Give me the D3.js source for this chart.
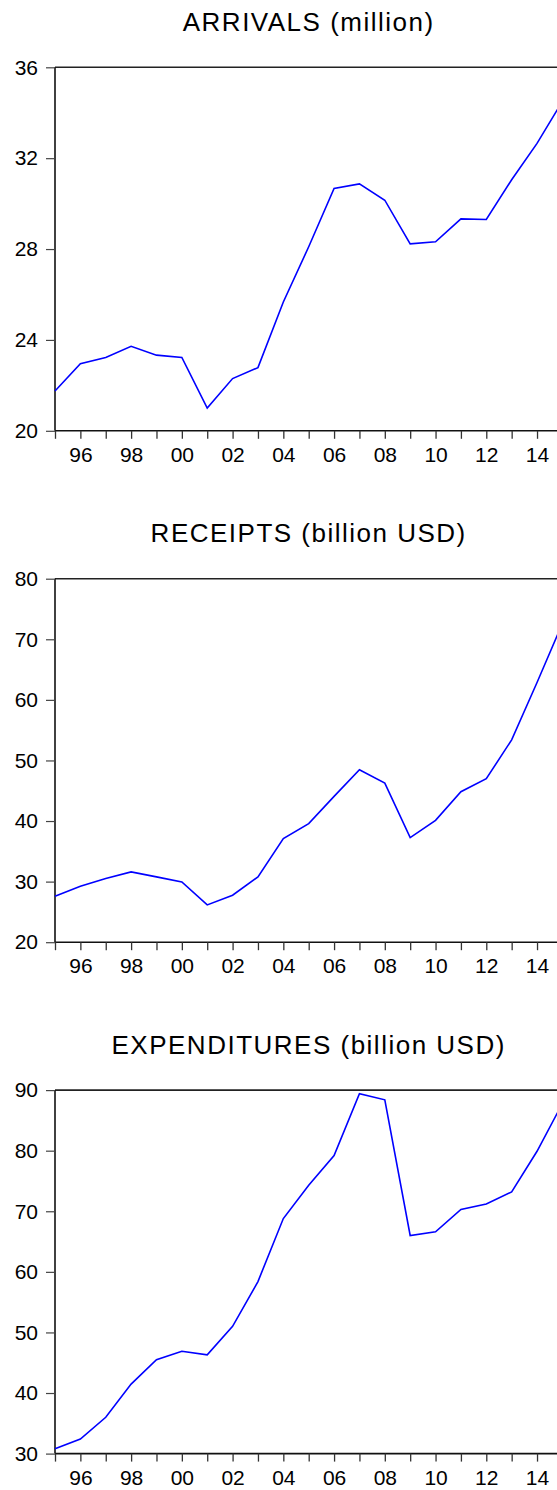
<!DOCTYPE html>
<html>
<head>
<meta charset="utf-8">
<script src="https://cdn.jsdelivr.net/npm/d3@7"></script>
<style>
  html, body { margin: 0; padding: 0; background: #fff; overflow: hidden; }
  svg { display: block; }
  text { font-family: "Liberation Sans", Arial, Helvetica, sans-serif; fill: #000; }
</style>
</head>
<body>
<script>
// Annual series, 1995-2015
const years = d3.range(1995, 2016);

const arrivals = [21.75, 22.95, 23.23, 23.72, 23.33, 23.23, 21.0, 22.3, 22.78, 25.67,
                  28.1, 30.67, 30.87, 30.15, 28.23, 28.32, 29.33, 29.3, 31.05, 32.65, 34.5];

const receipts = [27.58, 29.23, 30.5, 31.6, 30.78, 29.95, 26.16, 27.75, 30.78, 37.09,
                  39.57, 44.07, 48.47, 46.27, 37.26, 40.11, 44.84, 46.98, 53.4, 62.86, 72.6];

const expenditures = [30.82, 32.4, 35.99, 41.48, 45.5, 46.9, 46.3, 51.0, 58.4, 68.8,
                      74.3, 79.2, 89.4, 88.4, 66.0, 66.6, 70.3, 71.2, 73.2, 79.9, 87.8];

const titles = ["ARRIVALS (million)", "RECEIPTS (billion USD)", "EXPENDITURES (billion USD)"];
const yDomains = [[20, 36], [20, 80], [30, 90]];
const yTickValues = [[20, 24, 28, 32, 36], [20, 30, 40, 50, 60, 70, 80], [30, 40, 50, 60, 70, 80, 90]];
const xLabelYears = d3.range(1996, 2015, 2);

const series = [arrivals, receipts, expenditures];

const W = 557, H = 1490;
const left = 55, plotW = 507.4, plotH = 363.5;
const firstTop = 67.3, panelStep = 511.4;

const svg = d3.select("body").append("svg")
  .attr("width", W).attr("height", H);

const x = d3.scaleLinear().domain([1995, 2015]).range([left, left + plotW]);

series.forEach((vals, i) => {
  const top = firstTop + panelStep * i;
  const bottom = top + plotH;
  const y = d3.scaleLinear().domain(yDomains[i]).range([bottom, top]);
  const g = svg.append("g");

  // title
  g.append("text")
    .attr("x", left + plotW / 2)
    .attr("y", top - 36.6)
    .attr("text-anchor", "middle")
    .style("font-size", "26px")
    .style("letter-spacing", "1.5px")
    .text(titles[i]);

  // frame top edge
  g.append("line")
    .attr("x1", left).attr("x2", left + plotW)
    .attr("y1", top).attr("y2", top)
    .attr("stroke", "#222").attr("stroke-width", 1.6);

  // y axis
  const yAxis = d3.axisLeft(y)
    .tickValues(yTickValues[i])
    .tickSize(9)
    .tickPadding(8)
    .tickFormat(d3.format("d"));
  const ya = g.append("g").attr("transform", `translate(${left},0)`).call(yAxis);
  ya.select(".domain").attr("stroke", "#111").attr("stroke-width", 1.6)
    .attr("d", `M0,${top}V${bottom}`);
  ya.selectAll(".tick line").attr("stroke", "#444").attr("stroke-width", 1.2);
  ya.selectAll(".tick text")
    .style("font-size", "21px")
    .style("font-family", "'Liberation Sans', Arial, sans-serif")
    .attr("fill", "#000");

  // x axis
  const xAxis = d3.axisBottom(x)
    .tickValues(years)
    .tickSize(8)
    .tickPadding(8)
    .tickFormat(d => xLabelYears.includes(d) ? String(d % 100).padStart(2, "0") : "");
  const xa = g.append("g").attr("transform", `translate(0,${bottom})`).call(xAxis);
  xa.select(".domain").attr("stroke", "#111").attr("stroke-width", 1.6)
    .attr("d", `M${left},0H${left + plotW}`);
  xa.selectAll(".tick line").attr("stroke", "#333").attr("stroke-width", 1.3);
  xa.selectAll(".tick text")
    .style("font-size", "21px")
    .style("font-family", "'Liberation Sans', Arial, sans-serif")
    .attr("fill", "#000");

  // series line
  const line = d3.line()
    .x((d, j) => x(years[j]))
    .y(d => y(d));
  g.append("path")
    .datum(vals)
    .attr("fill", "none")
    .attr("stroke", "#0000ff")
    .attr("stroke-width", 1.6)
    .attr("stroke-linejoin", "miter")
    .attr("d", line);
});
</script>
</body>
</html>
